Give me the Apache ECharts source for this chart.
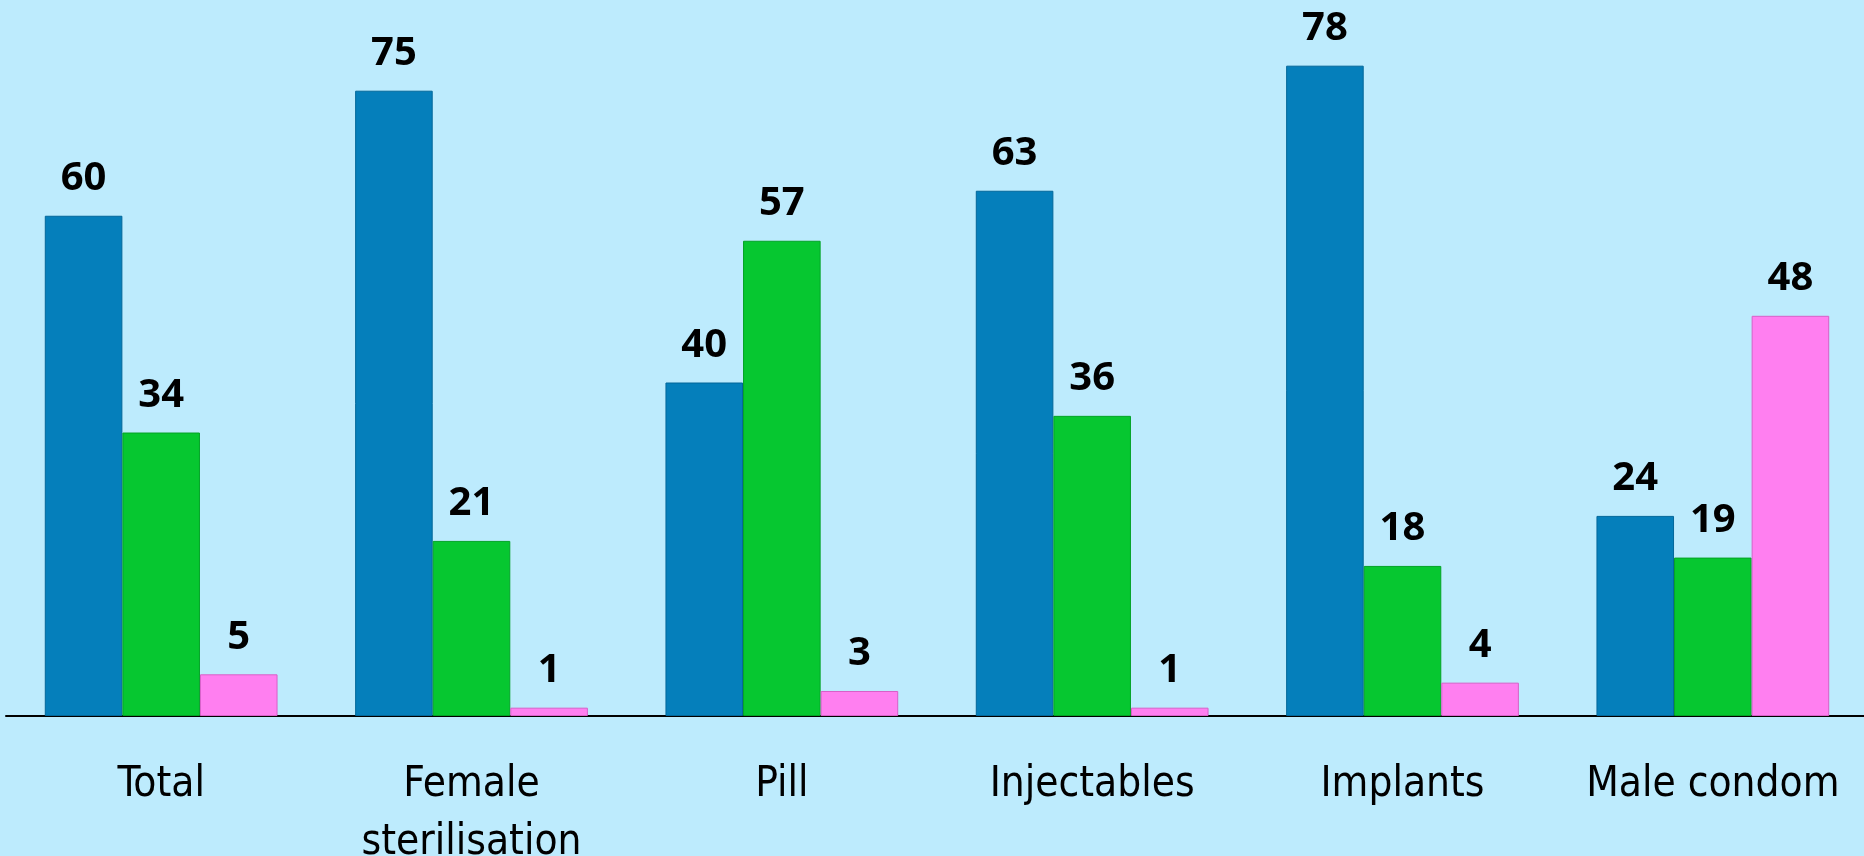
<!DOCTYPE html>
<html>
<head>
<meta charset="utf-8">
<title>Chart</title>
<script src="https://cdn.jsdelivr.net/npm/echarts@6/dist/echarts.min.js"></script>
<style>
  html, body { margin: 0; padding: 0; background: #bdebfd; }
  #main { width: 1864px; height: 856px; }
</style>
</head>
<body>
<div id="main"></div>
<script>
// categories and values
var categories = ["Total", "Female\nsterilisation", "Pill", "Injectables", "Implants", "Male condom"];
var blueValues = [60, 75, 40, 63, 78, 24];
var greenValues = [34, 21, 57, 36, 18, 19];
var pinkValues = [5, 1, 3, 1, 4, 48];

var font = "'Liberation Sans Narrow', 'DejaVu Sans Condensed', 'Noto Sans', sans-serif";

function barSeries(name, data, color, border) {
  return {
    name: name,
    type: "bar",
    data: data,
    barGap: "0%",
    barCategoryGap: "25%",
    itemStyle: { color: color, borderColor: border, borderWidth: 1 },
    label: {
      show: true,
      position: "top",
      distance: 17,
      color: "#000",
      fontWeight: "bold",
      fontSize: 40,
      fontFamily: "'Noto Sans', sans-serif"
    }
  };
}

var myChart = echarts.init(document.getElementById("main"));
myChart.setOption({
  backgroundColor: "#bdebfd",
  animation: false,
  grid: { left: 6, top: 49, width: 1862, bottom: 140, containLabel: false, outerBoundsMode: "none" },
  xAxis: {
    type: "category",
    data: categories,
    axisLine: { lineStyle: { color: "#000", width: 2 } },
    axisTick: { show: false },
    axisLabel: {
      color: "#000",
      fontSize: 42,
      lineHeight: 58,
      margin: 40,
      fontFamily: font,
      interval: 0
    }
  },
  yAxis: {
    type: "value",
    min: 0,
    max: 80,
    show: false,
    splitLine: { show: false }
  },
  series: [
    barSeries("Series 1", blueValues, "#057fbb", "#03679a"),
    barSeries("Series 2", greenValues, "#06c730", "#04a326"),
    barSeries("Series 3", pinkValues, "#ff7ff0", "#d860c8")
  ]
});
</script>
</body>
</html>
